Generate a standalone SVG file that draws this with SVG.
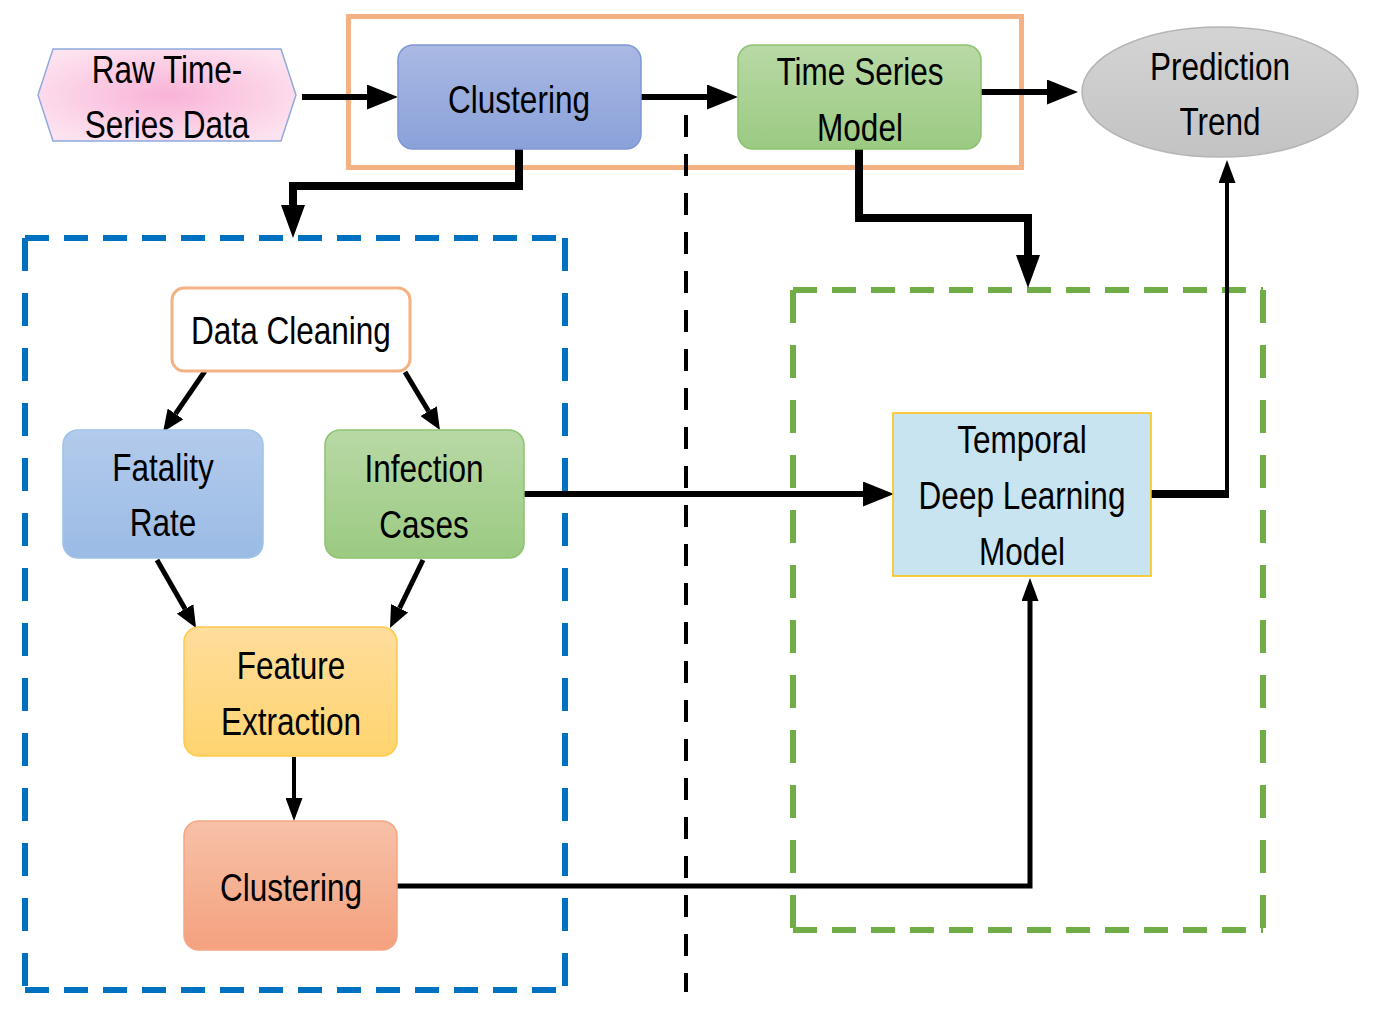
<svg xmlns="http://www.w3.org/2000/svg" width="1380" height="1023" viewBox="0 0 1380 1023">
<style>
text{font-family:"Liberation Sans",Arial,sans-serif;font-size:38px;fill:#000;text-anchor:middle}
.c{fill:none;stroke:#000;stroke-linejoin:miter}
.dashb{fill:none;stroke:#0070c0;stroke-width:6}
.dashg{fill:none;stroke:#70ad47;stroke-width:6}
.h{stroke-dasharray:24 15}
.v{stroke-dasharray:33 22}
</style>
<defs>
<linearGradient id="gBlue" x1="0" y1="0" x2="0" y2="1"><stop offset="0" stop-color="#aab9e4"/><stop offset="1" stop-color="#8aa1d9"/></linearGradient>
<linearGradient id="gLBlue" x1="0" y1="0" x2="0" y2="1"><stop offset="0" stop-color="#b3cbec"/><stop offset="1" stop-color="#9bbbe5"/></linearGradient>
<linearGradient id="gGreen" x1="0" y1="0" x2="0" y2="1"><stop offset="0" stop-color="#b8d9a5"/><stop offset="1" stop-color="#9bca82"/></linearGradient>
<linearGradient id="gYellow" x1="0" y1="0" x2="0" y2="1"><stop offset="0" stop-color="#ffdd9c"/><stop offset="1" stop-color="#ffd46f"/></linearGradient>
<linearGradient id="gSalmon" x1="0" y1="0" x2="0" y2="1"><stop offset="0" stop-color="#f7c1a8"/><stop offset="1" stop-color="#f4a17e"/></linearGradient>
<linearGradient id="gGray" x1="0" y1="0" x2="0" y2="1"><stop offset="0" stop-color="#d4d4d4"/><stop offset="1" stop-color="#c3c3c3"/></linearGradient>
<radialGradient id="gPink" cx="0.5" cy="0.5" r="0.6"><stop offset="0" stop-color="#f9b3d6"/><stop offset="1" stop-color="#fde3f0"/></radialGradient>
<marker id="aBig" viewBox="0 0 10 10" refX="0" refY="5" markerUnits="userSpaceOnUse" markerWidth="31" markerHeight="25" orient="auto" preserveAspectRatio="none"><path d="M0,0 L10,5 L0,10 z" fill="#000"/></marker>
<marker id="aDown" viewBox="0 0 10 10" refX="0" refY="5" markerUnits="userSpaceOnUse" markerWidth="33" markerHeight="24" orient="auto" preserveAspectRatio="none"><path d="M0,0 L10,5 L0,10 z" fill="#000"/></marker>
<marker id="aMed" viewBox="0 0 10 10" refX="0" refY="5" markerUnits="userSpaceOnUse" markerWidth="22" markerHeight="19" orient="auto" preserveAspectRatio="none"><path d="M0,0 L10,5 L0,10 z" fill="#000"/></marker>
<marker id="aSm" viewBox="0 0 10 10" refX="0" refY="5" markerUnits="userSpaceOnUse" markerWidth="23" markerHeight="17" orient="auto" preserveAspectRatio="none"><path d="M0,0 L10,5 L0,10 z" fill="#000"/></marker>
</defs>
<rect width="1380" height="1023" fill="#fff"/>

<g id="containers">
<rect id="orange-box" x="348.5" y="16.5" width="673" height="151" fill="none" stroke="#f4b183" stroke-width="5"/>
<g id="blue-box">
<path class="dashb h" d="M25,238 H565"/>
<path class="dashb h" d="M25,990 H565"/>
<path class="dashb v" d="M25,238 V990"/>
<path class="dashb v" d="M565,238 V990"/>
</g>
<g id="green-box">
<path class="dashg h" d="M793,290 H1263"/>
<path class="dashg h" d="M793,930 H1263"/>
<path class="dashg v" d="M793,290 V930"/>
<path class="dashg v" d="M1263,290 V930"/>
</g>
<path id="divider" d="M686,115 V992" fill="none" stroke="#000" stroke-width="4" stroke-dasharray="22 17"/>
</g>

<g id="connectors">
<path class="c" d="M302,97 H367" stroke-width="6" marker-end="url(#aBig)"/>
<path class="c" d="M641,97 H707" stroke-width="6" marker-end="url(#aBig)"/>
<path class="c" d="M981,92 H1047" stroke-width="6" marker-end="url(#aBig)"/>
<path class="c" d="M519,149 V186 H293 V205" stroke-width="8" marker-end="url(#aDown)"/>
<path class="c" d="M859,149 V218 H1028 V255" stroke-width="8" marker-end="url(#aDown)"/>
<path class="c" d="M205,371 L175.5,413.9" stroke-width="5" marker-end="url(#aMed)"/>
<path class="c" d="M405,372 L428.6,411.2" stroke-width="5" marker-end="url(#aMed)"/>
<path class="c" d="M157,560 L185.1,608.9" stroke-width="5" marker-end="url(#aMed)"/>
<path class="c" d="M423,560 L399.6,608.2" stroke-width="5" marker-end="url(#aMed)"/>
<path class="c" d="M294,757 V798" stroke-width="4" marker-end="url(#aSm)"/>
<path class="c" d="M524,494 H863" stroke-width="6" marker-end="url(#aBig)"/>
<path class="c" d="M1151,494 H1229" stroke-width="8"/>
<path class="c" d="M1227,497 V183" stroke-width="4" marker-end="url(#aSm)"/>
<path class="c" d="M397,886 H1030 V601" stroke-width="5" marker-end="url(#aSm)"/>
</g>

<g id="raw-data">
<polygon points="38,95 53,49 281,49 296,95 281,141 53,141" fill="url(#gPink)" stroke="#8faadc" stroke-width="1.5"/>
<text transform="matrix(0.83,0,0,1,167,83)">Raw Time-</text>
<text transform="matrix(0.83,0,0,1,167,138)">Series Data</text>
</g>
<g id="clustering-top">
<rect x="398" y="45" width="243" height="104" rx="15" fill="url(#gBlue)" stroke="#7f97d4" stroke-width="1.5"/>
<text transform="matrix(0.83,0,0,1,519,113)">Clustering</text>
</g>
<g id="time-series-model">
<rect x="738" y="45" width="243" height="104" rx="15" fill="url(#gGreen)" stroke="#8dc26f" stroke-width="1.5"/>
<text transform="matrix(0.83,0,0,1,860,85)">Time Series</text>
<text transform="matrix(0.83,0,0,1,860,141)">Model</text>
</g>
<g id="prediction-trend">
<ellipse cx="1220" cy="92" rx="138" ry="65" fill="url(#gGray)" stroke="#b5b5b5" stroke-width="1.5"/>
<text transform="matrix(0.83,0,0,1,1220,80)">Prediction</text>
<text transform="matrix(0.83,0,0,1,1220,135)">Trend</text>
</g>
<g id="data-cleaning">
<rect x="172" y="288" width="238" height="83" rx="12" fill="#fff" stroke="#f4b183" stroke-width="3"/>
<text transform="matrix(0.83,0,0,1,291,344)">Data Cleaning</text>
</g>
<g id="fatality-rate">
<rect x="63" y="430" width="200" height="128" rx="15" fill="url(#gLBlue)" stroke="#9dc3e6" stroke-width="1.5"/>
<text transform="matrix(0.83,0,0,1,163,481)">Fatality</text>
<text transform="matrix(0.83,0,0,1,163,536)">Rate</text>
</g>
<g id="infection-cases">
<rect x="325" y="430" width="199" height="128" rx="15" fill="url(#gGreen)" stroke="#8dc26f" stroke-width="1.5"/>
<text transform="matrix(0.83,0,0,1,424,482)">Infection</text>
<text transform="matrix(0.83,0,0,1,424,538)">Cases</text>
</g>
<g id="feature-extraction">
<rect x="184" y="627" width="213" height="129" rx="15" fill="url(#gYellow)" stroke="#ffc94a" stroke-width="1.5"/>
<text transform="matrix(0.83,0,0,1,291,679)">Feature</text>
<text transform="matrix(0.83,0,0,1,291,735)">Extraction</text>
</g>
<g id="clustering-bottom">
<rect x="184" y="821" width="213" height="129" rx="15" fill="url(#gSalmon)" stroke="#f4a683" stroke-width="1.5"/>
<text transform="matrix(0.83,0,0,1,291,901)">Clustering</text>
</g>
<g id="temporal-dl-model">
<rect x="893" y="413" width="258" height="163" fill="#c8e4f0" stroke="#ffc000" stroke-width="1.5"/>
<text transform="matrix(0.83,0,0,1,1022,453)">Temporal</text>
<text transform="matrix(0.83,0,0,1,1022,509)">Deep Learning</text>
<text transform="matrix(0.83,0,0,1,1022,565)">Model</text>
</g>
</svg>
